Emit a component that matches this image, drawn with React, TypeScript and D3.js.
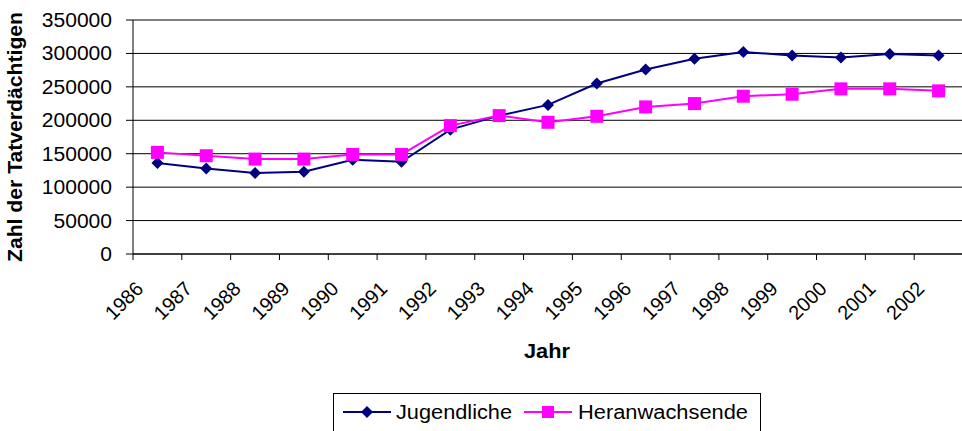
import React from "react";
import * as d3 from "d3";

const years = ["1986","1987","1988","1989","1990","1991","1992","1993","1994","1995","1996","1997","1998","1999","2000","2001","2002"];
const jugendliche = [136000,128000,121000,123000,141000,138000,186000,207000,223000,255000,276000,292000,302000,297000,294000,299000,297000];
const heranwachsende = [152000,147000,142000,142000,149000,149000,192000,207000,197000,206000,220000,225000,236000,239000,247000,247000,244000];
const yTicks = [0,50000,100000,150000,200000,250000,300000,350000];
const seriesNames = ["Jugendliche","Heranwachsende"];
const seriesColors = ["#000080","#FF00FF"];

const W = 962, H = 431;
const left = 133, right = 963, top = 20, bottom = 254;
const font = "Arial, 'Liberation Sans', sans-serif";

export default function App() {
  const x = d3.scaleBand<string>().domain(years).range([left, right]).padding(0);
  const y = d3.scaleLinear().domain([0, 350000]).range([bottom, top]);
  const cx = (d: string) => (x(d) as number) + x.bandwidth() / 2;
  const line = d3.line<number>().x((_, i) => cx(years[i])).y(v => y(v));
  const diamond = (px: number, py: number, r: number) => `M${px},${py - r}L${px + r},${py}L${px},${py + r}L${px - r},${py}Z`;
  const ticksX = [...years.map(d => x(d) as number), right];

  return (
    <div style={{ position: "fixed", left: 0, top: 0 }}>
      <svg width={W} height={H} style={{ display: "block", background: "#fff" }} fontFamily={font}>
        <rect x={0} y={0} width={W} height={H} fill="#fff" />
        {yTicks.map(t => (
          <line key={"g" + t} x1={left} x2={right} y1={y(t)} y2={y(t)} stroke="#000" strokeWidth={1} />
        ))}
        {yTicks.map(t => (
          <g key={"t" + t}>
            <line x1={left - 7} x2={left} y1={y(t)} y2={y(t)} stroke="#000" />
            <text x={112} y={y(t) + 7} textAnchor="end" fontSize={20} textLength={String(t).length * 11.7} lengthAdjust="spacingAndGlyphs" fill="#000">{t}</text>
          </g>
        ))}
        <line x1={left} x2={left} y1={top} y2={bottom} stroke="#000" />
        <line x1={left} x2={right} y1={bottom} y2={bottom} stroke="#000" />
        {ticksX.map((t, i) => (
          <line key={"xt" + i} x1={t} x2={t} y1={bottom} y2={bottom + 6} stroke="#000" />
        ))}
        {years.map(d => (
          <text key={"xl" + d} transform={`translate(${cx(d) - 13},${290}) rotate(-45)`} textAnchor="end" fontSize={20} textLength={44} lengthAdjust="spacingAndGlyphs" fill="#000">{d}</text>
        ))}
        <text transform={`translate(22,137) rotate(-90)`} textAnchor="middle" fontSize={20} fontWeight="bold" textLength={250} lengthAdjust="spacingAndGlyphs">Zahl der Tatverdächtigen</text>
        <text x={547} y={358} textAnchor="middle" fontSize={20} fontWeight="bold" textLength={46} lengthAdjust="spacingAndGlyphs">Jahr</text>

        <path d={line(jugendliche) || ""} fill="none" stroke={seriesColors[0]} strokeWidth={2} />
        <path d={line(heranwachsende) || ""} fill="none" stroke={seriesColors[1]} strokeWidth={2} />
        {jugendliche.map((v, i) => (
          <path key={"j" + i} d={diamond(cx(years[i]), y(v), 6)} fill={seriesColors[0]} />
        ))}
        {heranwachsende.map((v, i) => (
          <rect key={"h" + i} x={cx(years[i]) - 6.5} y={y(v) - 6.5} width={13} height={13} fill={seriesColors[1]} />
        ))}

        <rect x={333.5} y={393.5} width={427} height={40} fill="#fff" stroke="#000" />
        <line x1={343} x2={391} y1={412} y2={412} stroke={seriesColors[0]} strokeWidth={2} />
        <path d={diamond(367, 412, 6)} fill={seriesColors[0]} />
        <text x={396} y={419} fontSize={20} textLength={116} lengthAdjust="spacingAndGlyphs">{seriesNames[0]}</text>
        <line x1={524} x2={572} y1={412} y2={412} stroke={seriesColors[1]} strokeWidth={2} />
        <rect x={542} y={406} width={12} height={12} fill={seriesColors[1]} />
        <text x={578} y={419} fontSize={20} textLength={170} lengthAdjust="spacingAndGlyphs">{seriesNames[1]}</text>
      </svg>
    </div>
  );
}
